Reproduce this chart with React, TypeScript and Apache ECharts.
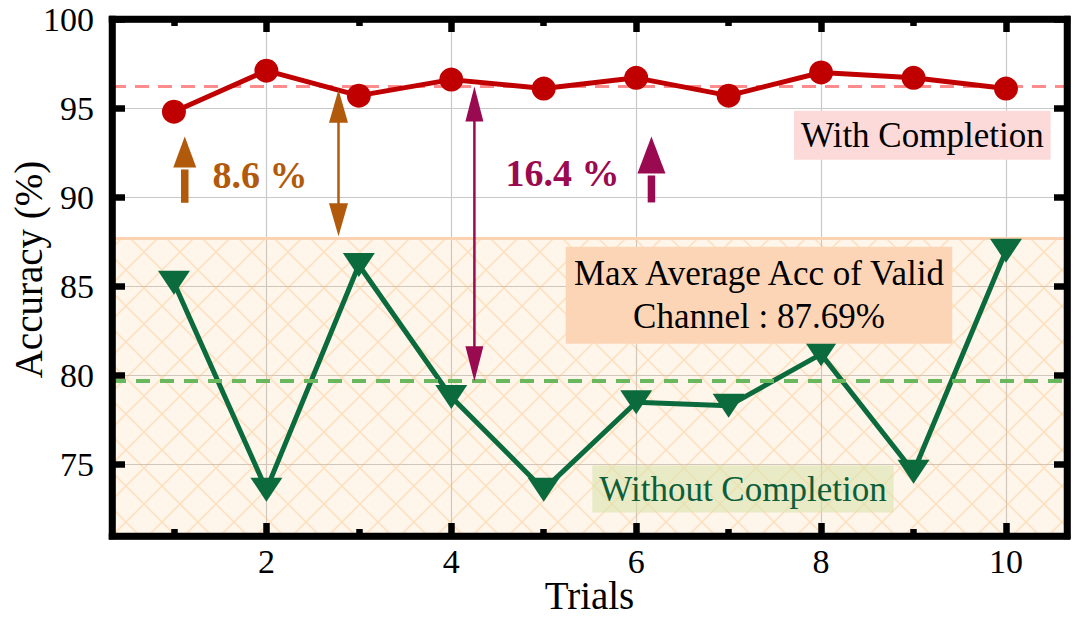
import React, { useEffect, useRef } from 'react';
import * as echarts from 'echarts';

// ---------- data ----------
const trials = [1, 2, 3, 4, 5, 6, 7, 8, 9, 10];
const withCompletion = [94.8, 97.1, 95.7, 96.6, 96.1, 96.7, 95.7, 97.0, 96.7, 96.1];
const withoutCompletion = [85.2, 73.6, 86.2, 78.8, 73.6, 78.5, 78.3, 81.2, 74.6, 87.0];
const withMean = 96.2;
const withoutMean = 79.7;
const maxValidAcc = 87.69;

const xMajorTicks = [2, 4, 6, 8, 10];
const xMinorTicks = [1, 3, 5, 7, 9];
const yTicks = [75, 80, 85, 90, 95, 100];
const xRange = [0.33, 10.66];
const yRange = [71, 100];

// annotation anchors (data coordinates)
const orangeUpArrow = [[1.117, 89.69], [1.117, 93.41]];
const orangeGapArrow = [[2.78, 96.03], [2.78, 87.81]];
const purpleGapArrow = [[4.25, 96.21], [4.25, 79.68]];
const purpleUpArrow = [[6.165, 89.71], [6.165, 93.41]];
const orangeLabel = { text: '8.6 %', at: [1.932, 91.24] };
const purpleLabel = { text: '16.4 %', at: [5.203, 91.38] };
const withLabel = { text: 'With Completion', at: [9.095, 93.48] };
const validLabel = { text: 'Max Average Acc of Valid\nChannel : 87.69%', at: [7.328, 84.51] };
const withoutLabel = { text: 'Without Completion', at: [7.155, 73.63] };

const FONT = '"Liberation Serif", "Times New Roman", serif';
const RED = '#c00000';
const GREEN = '#0b6b3d';
const ORANGE = '#b25a0c';
const PURPLE = '#9a0a50';

const tile = 36;
const hatchSvg =
  `<svg xmlns='http://www.w3.org/2000/svg' width='${tile}' height='${tile}'>` +
  `<rect width='${tile}' height='${tile}' fill='rgb(250,190,120)' fill-opacity='0.15'/>` +
  `<path d='M0 0L${tile} ${tile}M${tile} 0L0 ${tile}' stroke='rgb(250,185,110)' stroke-opacity='0.32' stroke-width='1.7'/>` +
  `</svg>`;
const hatchPattern: any = {
  image: 'data:image/svg+xml;charset=utf-8,' + encodeURIComponent(hatchSvg),
  repeat: 'repeat',
  imageWidth: tile,
  imageHeight: tile,
};

export default function App() {
  const ref = useRef<HTMLDivElement>(null);

  useEffect(() => {
    if (!ref.current) return;
    const chart = echarts.init(ref.current, undefined, { renderer: 'svg' });

    const tickStyle = { color: '#000', width: 6.5 };
    const frameLine = { show: true, onZero: false, lineStyle: { color: '#000', width: 6.5, cap: 'square' } };
    const hiddenLabel = { show: false };
    const noSplit = { show: false };

    const xBase = { type: 'value', min: xRange[0], max: xRange[1] };
    const yBase = { type: 'value', min: yRange[0], max: yRange[1] };

    const option: any = {
      animation: false,
      grid: {
        left: 112,
        right: 13,
        top: 19,
        bottom: 83,
        containLabel: false,
        outerBoundsMode: 'none',
      },
      xAxis: [
        {
          ...xBase,
          position: 'bottom',
          axisLine: { show: false },
          axisTick: { show: false, customValues: xMajorTicks },
          axisLabel: { customValues: xMajorTicks, margin: 8, fontSize: 34, fontFamily: FONT, color: '#000' },
          splitLine: { show: true, lineStyle: { color: '#c8c8c8', width: 1.2 } },
          name: 'Trials',
          nameLocation: 'middle',
          nameGap: 39,
          nameMoveOverlap: false,
          nameTextStyle: { fontSize: 39, fontFamily: FONT, color: '#000', lineHeight: 40 },
        },
        {
          ...xBase,
          position: 'bottom',
          z: 10,
          axisLine: frameLine,
          axisTick: { show: true, inside: true, length: 13, lineStyle: tickStyle, customValues: xMajorTicks },
          axisLabel: hiddenLabel,
          splitLine: noSplit,
        },
        {
          ...xBase,
          position: 'bottom',
          z: 10,
          axisLine: { show: false },
          axisTick: { show: true, inside: true, length: 7, lineStyle: tickStyle, customValues: xMinorTicks },
          axisLabel: hiddenLabel,
          splitLine: noSplit,
        },
        {
          ...xBase,
          position: 'top',
          z: 10,
          axisLine: frameLine,
          axisTick: { show: true, inside: true, length: 13, lineStyle: tickStyle, customValues: xMajorTicks },
          axisLabel: hiddenLabel,
          splitLine: noSplit,
        },
        {
          ...xBase,
          position: 'top',
          z: 10,
          axisLine: { show: false },
          axisTick: { show: true, inside: true, length: 7, lineStyle: tickStyle, customValues: xMinorTicks },
          axisLabel: hiddenLabel,
          splitLine: noSplit,
        },
      ],
      yAxis: [
        {
          ...yBase,
          position: 'left',
          axisLine: { show: false },
          axisTick: { show: false, customValues: yTicks },
          axisLabel: { customValues: yTicks, margin: 18, fontSize: 34, fontFamily: FONT, color: '#000' },
          splitLine: { show: true, lineStyle: { color: '#c8c8c8', width: 1.2 } },
          name: 'Accuracy (%)',
          nameLocation: 'middle',
          nameGap: 64,
          nameMoveOverlap: false,
          nameTextStyle: { fontSize: 39, fontFamily: FONT, color: '#000', lineHeight: 40, padding: [0, 0, 0, 16] },
        },
        {
          ...yBase,
          position: 'left',
          z: 10,
          axisLine: frameLine,
          axisTick: { show: true, inside: true, length: 13, lineStyle: tickStyle, customValues: yTicks },
          axisLabel: hiddenLabel,
          splitLine: noSplit,
        },
        {
          ...yBase,
          position: 'right',
          z: 10,
          axisLine: frameLine,
          axisTick: { show: true, inside: true, length: 13, lineStyle: tickStyle, customValues: yTicks },
          axisLabel: hiddenLabel,
          splitLine: noSplit,
        },
      ],
      series: [
        {
          type: 'line',
          name: 'Without Completion',
          xAxisIndex: 0,
          yAxisIndex: 0,
          data: trials.map((t, i) => [t, withoutCompletion[i]]),
          symbol: 'triangle',
          symbolSize: [32, 24],
          symbolRotate: 180,
          lineStyle: { color: GREEN, width: 5 },
          itemStyle: { color: GREEN },
          z: 3,
          markArea: {
            silent: true,
            itemStyle: { color: hatchPattern },
            data: [[{ yAxis: maxValidAcc }, { yAxis: yRange[0] }]],
          },
          markLine: {
            silent: true,
            symbol: 'none',
            label: { show: false },
            data: [{ yAxis: withoutMean, lineStyle: { color: '#6ab85e', width: 4, type: [14, 10] } }],
          },
        },
        {
          type: 'line',
          name: 'With Completion',
          xAxisIndex: 0,
          yAxisIndex: 0,
          data: trials.map((t, i) => [t, withCompletion[i]]),
          symbol: 'circle',
          symbolSize: 24,
          lineStyle: { color: RED, width: 5 },
          itemStyle: { color: RED },
          z: 4,
          markLine: {
            silent: true,
            symbol: 'none',
            z: 1,
            label: { show: false },
            data: [
              { yAxis: withMean, lineStyle: { color: '#ff8c8c', width: 3, type: [14, 9] } },
              { yAxis: maxValidAcc, lineStyle: { color: '#fcd2b3', width: 3, type: 'solid' } },
            ],
          },
        },
      ],
    };

    chart.setOption(option);

    const px = (p: number[]) => chart.convertToPixel({ seriesIndex: 0 }, p) as number[];

    const single = (pts: number[][], shaftW: number, headW: number, headLen: number, color: string) => {
      const [tx, ty] = px(pts[0]);
      const [hx, hy] = px(pts[1]);
      const dir = hy < ty ? 1 : -1;
      const baseY = hy + dir * headLen;
      return [
        { type: 'line', z: 20, silent: true, shape: { x1: tx, y1: ty, x2: hx, y2: baseY + dir * 2 }, style: { stroke: color, lineWidth: shaftW } },
        { type: 'polygon', z: 20, silent: true, shape: { points: [[hx, hy], [hx - headW / 2, baseY], [hx + headW / 2, baseY]] }, style: { fill: color } },
      ];
    };

    const double = (pts: number[][], shaftW: number, headW: number, headLen: number, color: string) => {
      const [ax, ay] = px(pts[0]);
      const [bx, by] = px(pts[1]);
      const topBase = ay + headLen;
      const botBase = by - headLen;
      return [
        { type: 'line', z: 20, silent: true, shape: { x1: ax, y1: topBase - 2, x2: bx, y2: botBase + 2 }, style: { stroke: color, lineWidth: shaftW } },
        { type: 'polygon', z: 20, silent: true, shape: { points: [[ax, ay], [ax - headW / 2, topBase], [ax + headW / 2, topBase]] }, style: { fill: color } },
        { type: 'polygon', z: 20, silent: true, shape: { points: [[bx, by], [bx - headW / 2, botBase], [bx + headW / 2, botBase]] }, style: { fill: color } },
      ];
    };

    const label = (l: { text: string; at: number[] }, style: any) => {
      const [x, y] = px(l.at);
      return {
        type: 'text',
        z: 15,
        silent: true,
        x,
        y,
        style: {
          text: l.text,
          fontFamily: FONT,
          align: 'center',
          verticalAlign: 'middle',
          ...style,
        },
      };
    };

    // plot frame, from the axis extents
    const [fx0, fy0] = px([xRange[0], yRange[1]]);
    const [fx1, fy1] = px([xRange[1], yRange[0]]);

    const graphic: any[] = [
      {
        type: 'rect',
        z: 30,
        silent: true,
        shape: { x: fx0, y: fy0, width: fx1 - fx0, height: fy1 - fy0 },
        style: { fill: 'none', stroke: '#000', lineWidth: 6.5, lineJoin: 'miter' },
      },
      ...single(orangeUpArrow, 7.5, 23, 31, ORANGE),
      ...double(orangeGapArrow, 2.5, 19, 33, ORANGE),
      ...double(purpleGapArrow, 2.5, 18, 35, PURPLE),
      ...single(purpleUpArrow, 7.5, 28, 37, PURPLE),
      label(orangeLabel, { fontSize: 38, fontWeight: 'bold', fill: ORANGE }),
      label(purpleLabel, { fontSize: 38, fontWeight: 'bold', fill: PURPLE }),
      label(withLabel, { fontSize: 35, fill: '#000', backgroundColor: '#fcdada', padding: [5, 7, 4, 7], lineHeight: 40 }),
      label(validLabel, { fontSize: 35, fill: '#000', backgroundColor: '#fcd5b6', padding: [6, 6, 5, 6], lineHeight: 43, align: 'center' }),
      label(withoutLabel, { fontSize: 35, fill: '#0d5e3a', backgroundColor: 'rgba(215,225,170,0.55)', padding: [4, 7, 4, 7], lineHeight: 39 }),
    ];

    chart.setOption({ graphic });

    return () => {
      chart.dispose();
    };
  }, []);

  return (
    <div
      ref={ref}
      style={{ position: 'absolute', left: 0, top: 0, width: 1080, height: 619, background: '#fff' }}
    />
  );
}
